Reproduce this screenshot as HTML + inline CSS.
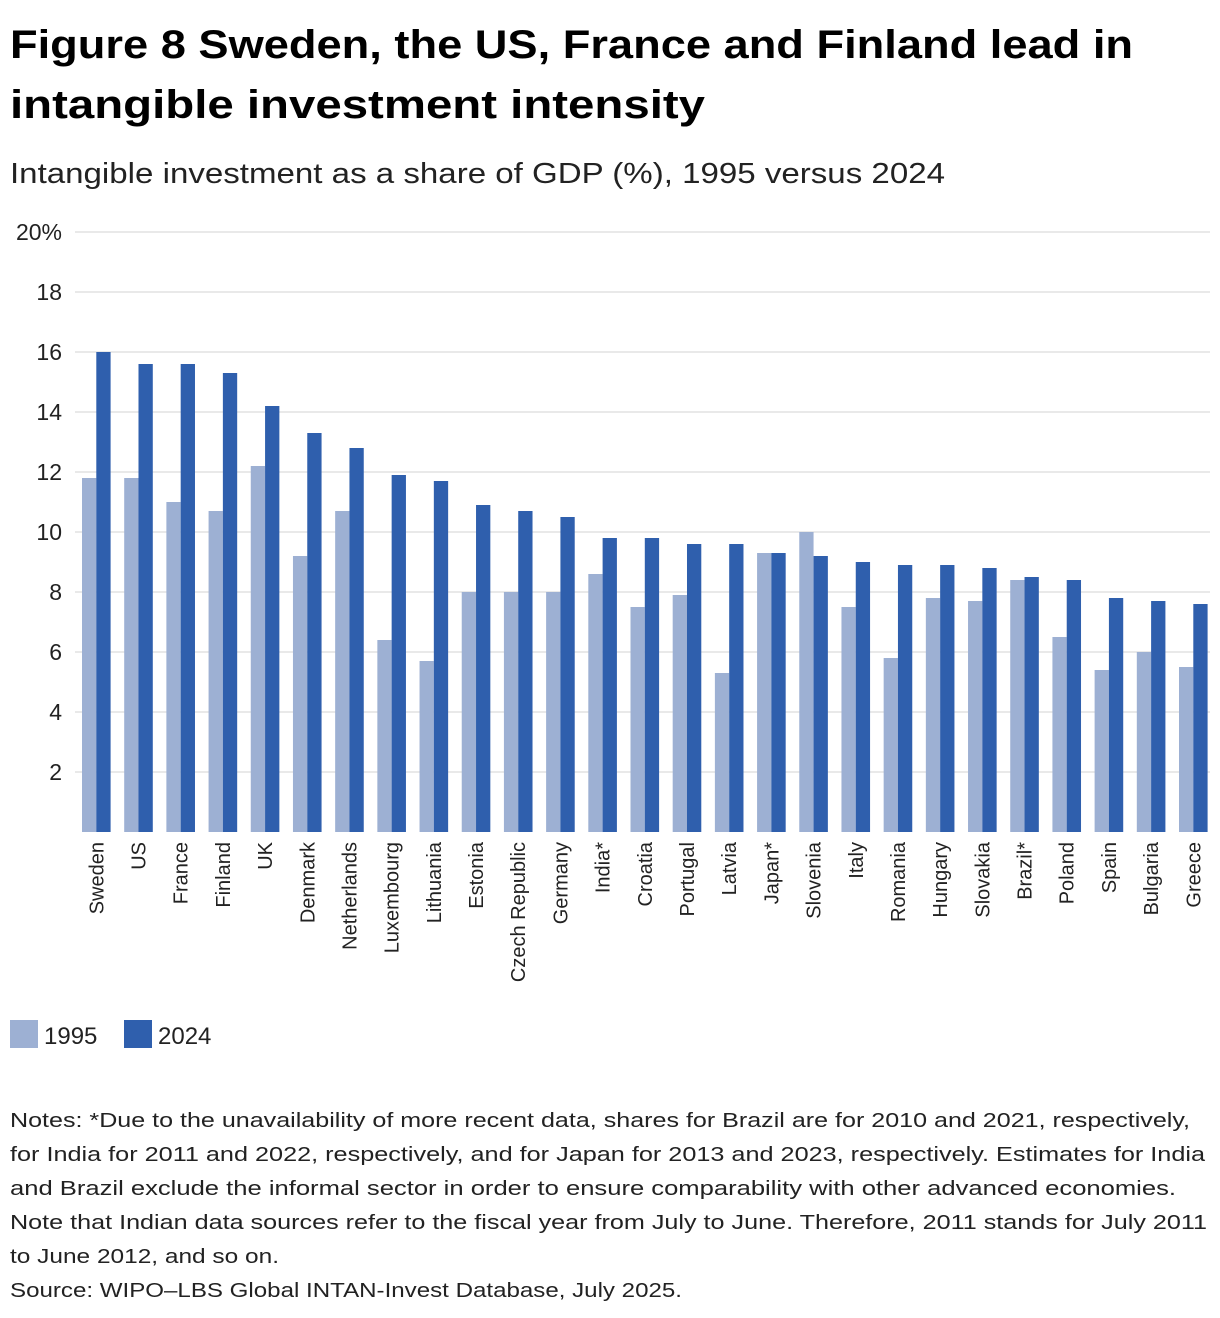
<!DOCTYPE html>
<html><head><meta charset="utf-8"><style>
body{margin:0;background:#fff}
svg{display:block;font-family:"Liberation Sans",sans-serif}
</style></head><body>
<svg id="c" width="1220" height="1318" viewBox="0 0 1220 1318">
<text x="10" y="58" font-size="40" font-weight="bold" textLength="1123" lengthAdjust="spacingAndGlyphs" fill="#000">Figure 8 Sweden, the US, France and Finland lead in</text>
<text x="10" y="118" font-size="40" font-weight="bold" textLength="695" lengthAdjust="spacingAndGlyphs" fill="#000">intangible investment intensity</text>
<text x="10" y="183" font-size="29" textLength="935" lengthAdjust="spacingAndGlyphs" fill="#222">Intangible investment as a share of GDP (%), 1995 versus 2024</text>
<g id="grid"></g><g id="bars"></g><g id="labels"></g>
<rect x="10" y="1020" width="28" height="28" fill="#9db0d3"/>
<text x="44" y="1044" font-size="24" fill="#222">1995</text>
<rect x="124" y="1020" width="28" height="28" fill="#2f5fad"/>
<text x="158" y="1044" font-size="24" fill="#222">2024</text>
<g font-size="20.5" fill="#222">
<text x="10" y="1127" textLength="1180" lengthAdjust="spacingAndGlyphs">Notes: *Due to the unavailability of more recent data, shares for Brazil are for 2010 and 2021, respectively,</text>
<text x="10" y="1161" textLength="1195" lengthAdjust="spacingAndGlyphs">for India for 2011 and 2022, respectively, and for Japan for 2013 and 2023, respectively. Estimates for India</text>
<text x="10" y="1195" textLength="1166" lengthAdjust="spacingAndGlyphs">and Brazil exclude the informal sector in order to ensure comparability with other advanced economies.</text>
<text x="10" y="1229" textLength="1197" lengthAdjust="spacingAndGlyphs">Note that Indian data sources refer to the fiscal year from July to June. Therefore, 2011 stands for July 2011</text>
<text x="10" y="1263" textLength="269" lengthAdjust="spacingAndGlyphs">to June 2012, and so on.</text>
<text x="10" y="1297" textLength="672" lengthAdjust="spacingAndGlyphs">Source: WIPO–LBS Global INTAN-Invest Database, July 2025.</text>
</g>
</svg>
<script>
const categories=["Sweden","US","France","Finland","UK","Denmark","Netherlands","Luxembourg","Lithuania","Estonia","Czech Republic","Germany","India*","Croatia","Portugal","Latvia","Japan*","Slovenia","Italy","Romania","Hungary","Slovakia","Brazil*","Poland","Spain","Bulgaria","Greece"];
const values1995=[11.8,11.8,11.0,10.7,12.2,9.2,10.7,6.4,5.7,8.0,8.0,8.0,8.6,7.5,7.9,5.3,9.3,10.0,7.5,5.8,7.8,7.7,8.4,6.5,5.4,6.0,5.5];
const values2024=[16.0,15.6,15.6,15.3,14.2,13.3,12.8,11.9,11.7,10.9,10.7,10.5,9.8,9.8,9.6,9.6,9.3,9.2,9.0,8.9,8.9,8.8,8.5,8.4,7.8,7.7,7.6];
const yTicks=[2,4,6,8,10,12,14,16,18,20];
const yTickLabels=["2","4","6","8","10","12","14","16","18","20%"];
const NS="http://www.w3.org/2000/svg";
const x0=75,x1=1210,step=(1179-82)/(categories.length-1),bw=14.3;
const y=v=>832-v*30;
const gx=i=>82+i*step;
function mk(t,a,p){const e=document.createElementNS(NS,t);for(const k in a)e.setAttribute(k,a[k]);p.appendChild(e);return e;}
const grid=document.getElementById('grid'),bars=document.getElementById('bars'),labels=document.getElementById('labels');
yTicks.forEach((v,i)=>{
 const l=mk('line',{x1:x0,x2:x1,y1:y(v),y2:y(v),stroke:'#dcdcdc','stroke-width':1.3},grid);
 
 
 const t=mk('text',{x:62,y:y(v)+8,'font-size':23,'text-anchor':'end',fill:'#222'},grid);
 t.textContent=yTickLabels[i];
 
 
});
categories.forEach((c,i)=>{
 const a=mk('rect',{x:gx(i),y:y(values1995[i]),width:bw,height:values1995[i]*30,fill:'#9db0d3'},bars);
 
 
 const b=mk('rect',{x:gx(i)+bw,y:y(values2024[i]),width:bw,height:values2024[i]*30,fill:'#2f5fad'},bars);
 
 
 const cx=gx(i)+bw+7;
 const t=mk('text',{x:cx,y:842,'font-size':20,'text-anchor':'end',fill:'#222',transform:`rotate(-90 ${cx} 842)`},labels);
 t.textContent=c;
 
 
});
</script>
</body></html>
